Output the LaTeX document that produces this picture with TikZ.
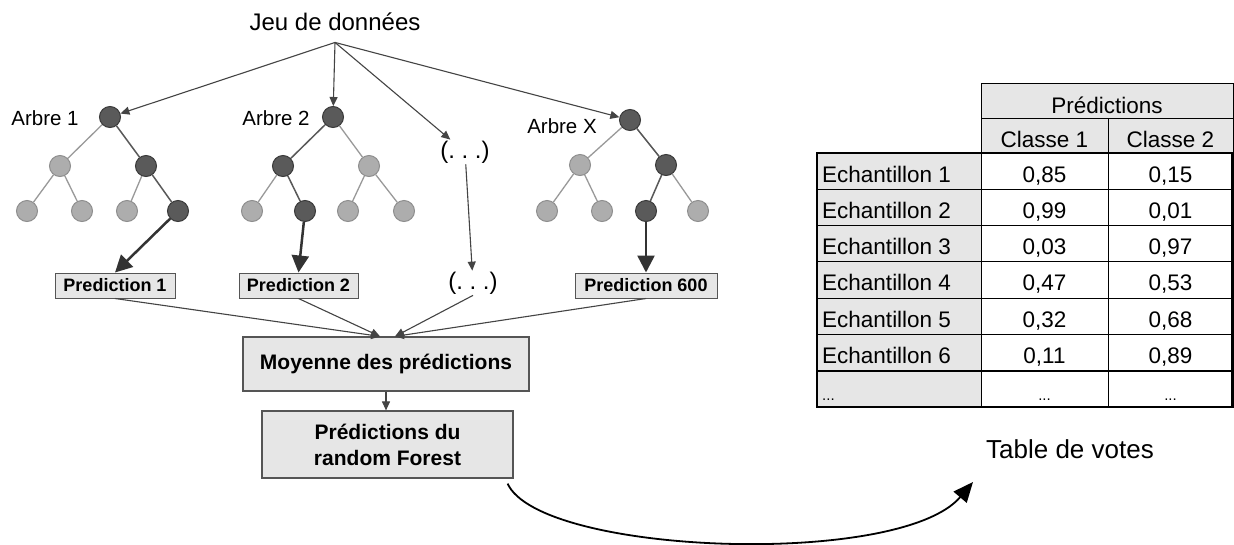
\documentclass[tikz,border=0pt]{standalone}
\usepackage{fontspec}
\setmainfont{Liberation Sans}
\usetikzlibrary{arrows.meta}
\definecolor{darkn}{HTML}{5A5A5A}
\definecolor{darkb}{HTML}{3A3A3A}
\definecolor{lightn}{HTML}{ADADAD}
\definecolor{lightb}{HTML}{8E8E8E}
\definecolor{boxfill}{HTML}{E6E6E6}
\definecolor{boxline}{HTML}{555555}
\definecolor{arrowc}{HTML}{444444}
\begin{document}
\begin{tikzpicture}[x=1pt,y=-1pt,
  dn/.style={circle,draw=darkb,fill=darkn,line width=1pt,minimum size=21pt,inner sep=0pt},
  ln/.style={circle,draw=lightb,fill=lightn,line width=1pt,minimum size=21pt,inner sep=0pt},
  ed/.style={draw=black!65,line width=1.5pt},
  el/.style={draw=black!40,line width=1.3pt},
  thinarrow/.style={draw=arrowc,line width=1.1pt,-{Triangle[length=9pt,width=8pt]}},
  bigarrow/.style={draw=black!80,line width=2.5pt,-{Triangle[length=17pt,width=17pt]}},
  predbox/.style={draw=boxline,fill=boxfill,line width=1pt,font=\bfseries\fontsize{18}{21}\selectfont,minimum height=25pt,inner sep=0pt},
  bigbox/.style={draw=boxline,fill=boxfill,line width=1.2pt,font=\bfseries\fontsize{21}{26}\selectfont,inner sep=0pt,align=center},
  lbl/.style={font=\fontsize{20.5}{24}\selectfont,inner sep=0pt,anchor=base},
  dots/.style={font=\fontsize{24}{28}\selectfont,inner sep=1pt},
  tcell/.style={font=\fontsize{22.5}{26}\selectfont,inner sep=0pt,anchor=base},
  gcell/.style={draw=black,line width=1pt,fill=boxfill,inner sep=0pt},
  wcell/.style={draw=black,line width=1pt,fill=white,inner sep=0pt},
]
\useasboundingbox (0,0) rectangle (1234,544);
\fill[white] (0,0) rectangle (1234,544);

% title
\node[font=\fontsize{24}{28}\selectfont,anchor=base,inner xsep=0pt,inner ysep=12pt] (jeu) at (335,30) {Jeu de données};

% tree 1
\node[dn] (a0) at (110,117) {};
\node[ln] (a1) at (60,166) {};
\node[dn] (a2) at (146,166) {};
\node[ln] (a3) at (27,211) {};
\node[ln] (a4) at (82,211) {};
\node[ln] (a5) at (127,211) {};
\node[dn] (a6) at (178,211) {};
\draw[el] (a0) -- (a1); \draw[ed] (a0) -- (a2);
\draw[el] (a1) -- (a3); \draw[el] (a1) -- (a4);
\draw[el] (a2) -- (a5); \draw[ed] (a2) -- (a6);

% tree 2
\node[dn] (b0) at (333,117) {};
\node[dn] (b1) at (283,166) {};
\node[ln] (b2) at (369,166) {};
\node[ln] (b3) at (252,211) {};
\node[dn] (b4) at (305,211) {};
\node[ln] (b5) at (348,211) {};
\node[ln] (b6) at (404,211) {};
\draw[ed] (b0) -- (b1); \draw[el] (b0) -- (b2);
\draw[el] (b1) -- (b3); \draw[ed] (b1) -- (b4);
\draw[el] (b2) -- (b5); \draw[el] (b2) -- (b6);

% tree X
\node[dn] (x0) at (630,120) {};
\node[ln] (x1) at (580,165) {};
\node[dn] (x2) at (666,165) {};
\node[ln] (x3) at (547,211) {};
\node[ln] (x4) at (602,211) {};
\node[dn] (x5) at (646,211) {};
\node[ln] (x6) at (698,211) {};
\draw[el] (x0) -- (x1); \draw[ed] (x0) -- (x2);
\draw[el] (x1) -- (x3); \draw[el] (x1) -- (x4);
\draw[ed] (x2) -- (x5); \draw[el] (x2) -- (x6);

% labels
\node[lbl] (l1) at (45,125) {Arbre 1};
\node[lbl] (l2) at (276,125) {Arbre 2};
\node[lbl] (lx) at (562,133) {Arbre X};

\node[dots] (d1) at (465,152) {(.\ .\ .)};
\node[dots] (d2) at (473,283) {(.\ .\ .)};

% prediction boxes
\node[predbox,minimum width=120pt] (p1) at (115,285.5) {Prediction 1};
\node[predbox,minimum width=119pt] (p2) at (298.5,285.5) {Prediction 2};
\node[predbox,minimum width=142pt] (px) at (646,285.5) {Prediction 600};

\node[bigbox,minimum width=286pt,minimum height=54pt] (moy) at (386,364) {Moyenne des prédictions};
\node[bigbox,minimum width=251pt,minimum height=67pt] (rf) at (387.5,444.5) {Prédictions du\\random Forest};

% arrows
\draw[thinarrow] (jeu.south) -- (a0);
\draw[thinarrow] (jeu.south) -- (b0);
\draw[thinarrow] (jeu.south) -- (d1);
\draw[thinarrow] (jeu.south) -- (x0);
\draw[bigarrow] (a6) -- (p1.north);
\draw[bigarrow] (b4) -- (p2.north);
\draw[bigarrow] (x5) -- (px.north);
\draw[thinarrow] (d1) -- (d2);
\draw[thinarrow] (p1.south) -- ([xshift=-6pt]moy.north);
\draw[thinarrow] (p2.south) -- ([xshift=-6pt]moy.north);
\draw[thinarrow] (d2.south) -- ([xshift=9pt]moy.north);
\draw[thinarrow] (px.south) -- ([xshift=9pt]moy.north);
\draw[thinarrow] (moy.south) -- (moy.south |- rf.north);

% curved arrow
\coordinate (tv) at (973,482);
\draw[line width=1.8pt,-{Triangle[length=20pt,width=17pt]}] ([xshift=-6pt,yshift=-5pt]rf.south east) .. controls (540,555) and (900,568) .. (tv);

% table
\node[gcell,minimum width=252pt,minimum height=35pt] (hp) at (1107,100.5) {};
\node[tcell] (hpt) at (1107,113) {Prédictions};
\node[gcell,minimum width=127pt,minimum height=35pt] (hc1) at (1044.5,135.5) {};
\node[gcell,minimum width=125pt,minimum height=35pt] (hc2) at (1170.5,135.5) {};
\node[tcell] (hc1t) at (1044.5,147) {Classe 1};
\node[tcell] (hc2t) at (1170.5,147) {Classe 2};

\foreach \i/\a/\b in {1/{0,85}/{0,15},2/{0,99}/{0,01},3/{0,03}/{0,97},4/{0,47}/{0,53},5/{0,32}/{0,68},6/{0,11}/{0,89}} {
  \pgfmathsetmacro\ry{153+36.3*(\i-1)}
  \node[gcell,minimum width=164pt,minimum height=36.3pt] (e\i) at (899,\ry+18.15) {};
  \node[wcell,minimum width=127pt,minimum height=36.3pt] (v\i) at (1044.5,\ry+18.15) {};
  \node[wcell,minimum width=125pt,minimum height=36.3pt] (w\i) at (1170.5,\ry+18.15) {};
  \node[tcell,anchor=base west] (et\i) at (822,\ry+29) {Echantillon \i};
  \node[tcell] (vt\i) at (1044.5,\ry+29) {\a};
  \node[tcell] (wt\i) at (1170.5,\ry+29) {\b};
}
\node[gcell,minimum width=164pt,minimum height=36.3pt] (e7) at (899,389.15) {};
\node[wcell,minimum width=127pt,minimum height=36.3pt] (v7) at (1044.5,389.15) {};
\node[wcell,minimum width=125pt,minimum height=36.3pt] (w7) at (1170.5,389.15) {};
\node[tcell,font=\fontsize{15}{17}\selectfont,anchor=base west] (et7) at (822,400) {...};
\node[tcell,font=\fontsize{15}{17}\selectfont] (vt7) at (1044.5,400) {...};
\node[tcell,font=\fontsize{15}{17}\selectfont] (wt7) at (1170.5,400) {...};
\draw[line width=2.2pt] (817,153) rectangle (1232.5,407);

\node[font=\fontsize{26}{30}\selectfont,anchor=base,inner sep=0pt] (tdv) at (1070,458) {Table de votes};
\end{tikzpicture}
\end{document}
